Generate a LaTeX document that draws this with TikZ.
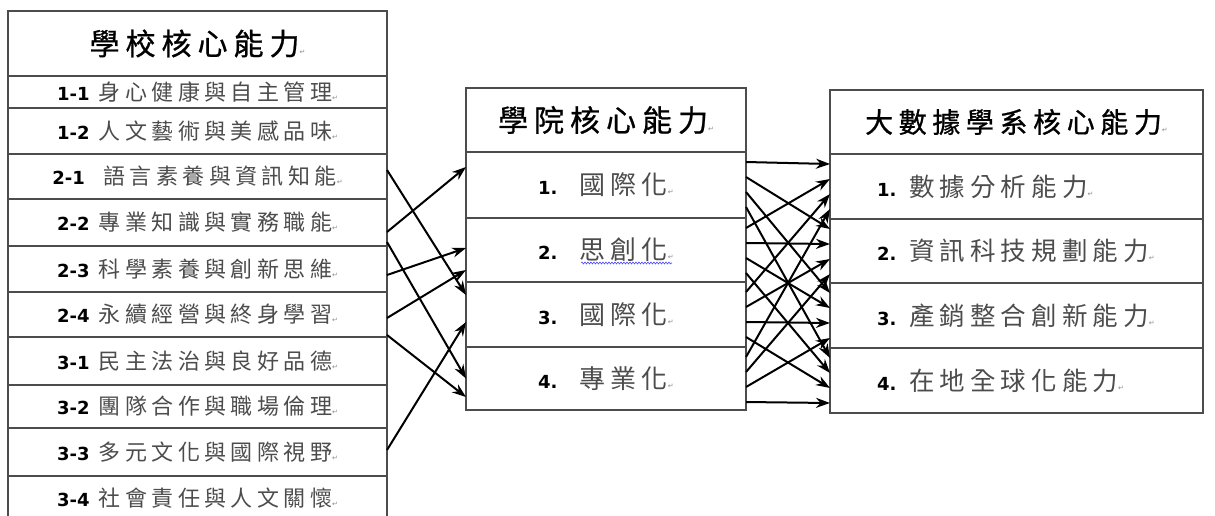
\documentclass[tikz,border=0pt]{standalone}
\usepackage{fontspec}
\setmainfont{Liberation Sans}
\newfontfamily\cjk[LetterSpace=20]{Noto Sans CJK TC}
\newfontfamily\cjkhead[LetterSpace=20, FakeBold=0.8]{Noto Sans CJK TC}
\newfontfamily\symb{DejaVu Sans}
\usetikzlibrary{positioning, calc, arrows.meta, decorations.pathmorphing}

\newcommand\no[1]{{\symb\bfseries\color{black}\fontsize{18}{20}\selectfont #1}}
\newcommand\ret{{\symb\color{black!45}\fontsize{7}{7}\selectfont ↵}}

\tikzset{
    cell/.style={draw=black!70, line width=1.2pt, outer sep=0pt, inner sep=0pt}, % one table cell
    lhead/.style={cell, minimum width=379pt, font=\cjkhead\fontsize{30}{33}\selectfont},
    lrow/.style={cell, minimum width=379pt, text=black!70, font=\cjk\fontsize{22}{24}\selectfont},
    mhead/.style={cell, minimum width=280pt, font=\cjkhead\fontsize{30}{33}\selectfont},
    mrow/.style={cell, minimum width=280pt, text=black!70, font=\cjk\fontsize{26}{28}\selectfont},
    rhead/.style={cell, minimum width=373pt, font=\cjkhead\fontsize{28}{30}\selectfont},
    rrow/.style={cell, text width=373pt, align=left, text=black!70, font=\cjk\fontsize{25.5}{28}\selectfont,
        execute at begin node=\hspace*{47pt}}, % text starts well inside the cell
    conn/.style={line width=2pt, -{Stealth[length=14pt, width=10pt]}}, % the arrows
}

\begin{document}
\begin{tikzpicture}[x=1pt, y=-1pt]
    \useasboundingbox (0,0) rectangle (1215,515);
    % school table
    \node[lhead, minimum height=65pt] (lh) at (197.5,43.5) {學校核心能力\ret};
    \node[lrow, minimum height=32pt, below=0pt of lh] (l11) {\no{1-1} 身心健康與自主管理\ret};
    \node[lrow, minimum height=46pt, below=0pt of l11] (l12) {\no{1-2} 人文藝術與美感品味\ret};
    \node[lrow, minimum height=45pt, below=0pt of l12] (l21) {\no{2-1}\ \ 語言素養與資訊知能\ret};
    \node[lrow, minimum height=47pt, below=0pt of l21] (l22) {\no{2-2} 專業知識與實務職能\ret};
    \node[lrow, minimum height=46pt, below=0pt of l22] (l23) {\no{2-3} 科學素養與創新思維\ret};
    \node[lrow, minimum height=45pt, below=0pt of l23] (l24) {\no{2-4} 永續經營與終身學習\ret};
    \node[lrow, minimum height=48pt, below=0pt of l24] (l31) {\no{3-1} 民主法治與良好品德\ret};
    \node[lrow, minimum height=43pt, below=0pt of l31] (l32) {\no{3-2} 團隊合作與職場倫理\ret};
    \node[lrow, minimum height=48pt, below=0pt of l32] (l33) {\no{3-3} 多元文化與國際視野\ret};
    \node[lrow, minimum height=44pt, below=0pt of l33] (l34) {\no{3-4} 社會責任與人文關懷\ret};
    % college table
    \node[mhead, minimum height=64pt] (mh) at (606,120) {學院核心能力\ret};
    \node[mrow, minimum height=66pt, below=0pt of mh] (m1) {\no{1.}\ \ 國際化\ret};
    \node[mrow, minimum height=64pt, below=0pt of m1] (m2) {\no{2.}\ \ 思創化\ret};
    \node[mrow, minimum height=65pt, below=0pt of m2] (m3) {\no{3.}\ \ 國際化\ret};
    \node[mrow, minimum height=63pt, below=0pt of m3] (m4) {\no{4.}\ \ 專業化\ret};
    \draw[blue!70, line width=0.6pt, decorate, decoration={snake, amplitude=1pt, segment length=3pt}]
        ($(m2.center)+(-25,13)$) -- ($(m2.center)+(66,13)$);
    % department table
    \node[rhead, minimum height=64pt] (rh) at (1016.5,122) {大數據學系核心能力\ret};
    \node[rrow, minimum height=65pt, below=0pt of rh] (r1) {\no{1.} 數據分析能力\ret};
    \node[rrow, minimum height=64pt, below=0pt of r1] (r2) {\no{2.} 資訊科技規劃能力\ret};
    \node[rrow, minimum height=65pt, below=0pt of r2] (r3) {\no{3.} 產銷整合創新能力\ret};
    \node[rrow, minimum height=65pt, below=0pt of r3] (r4) {\no{4.} 在地全球化能力\ret};
    % school -> college
    \draw[conn] ($(l21.east)+(0,-6.5)$) -- ($(m3.west)+(0,-19.5)$);
    \draw[conn] ($(l22.east)+(0,9.5)$) -- ($(m1.west)+(0,-18)$);
    \draw[conn] ($(l22.east)+(0,19.5)$) -- ($(m4.west)+(0,0)$);
    \draw[conn] ($(l23.east)+(0,6)$) -- ($(m2.west)+(0,-2)$);
    \draw[conn] ($(l24.east)+(0,3.5)$) -- ($(m2.west)+(0,20)$);
    \draw[conn] ($(l24.east)+(0,20.5)$) -- ($(m4.west)+(0,18.5)$);
    \draw[conn] ($(l33.east)+(0,-2)$) -- ($(m3.west)+(0,7.5)$);
    % college -> department
    \foreach \i in {1,...,4}
        \foreach \j in {1,...,4}
            \draw[conn] ($(m\i.north east)+(0,{10+15*(\j-1)})$) -- ($(r\j.north west)+(0,{10+15*(\i-1)})$);
\end{tikzpicture}
\end{document}
